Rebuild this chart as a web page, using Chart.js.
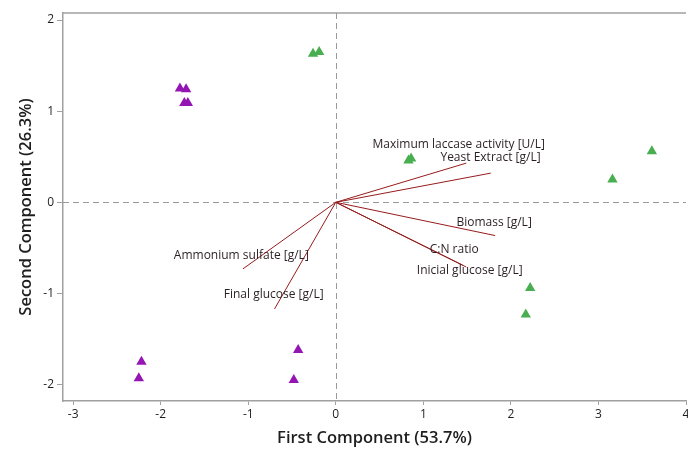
<!DOCTYPE html>
<html>
<head>
<meta charset="utf-8">
<script src="https://cdn.jsdelivr.net/npm/chart.js@4"></script>
<style>
  html, body { margin: 0; padding: 0; background: #fff; }
  #wrap { width: 688px; height: 449px; }
</style>
</head>
<body>
<div id="wrap"><canvas id="biplot"></canvas></div>
<script>
// scores (first / second component)
const greenScores = [
  {x: -0.26, y: 1.63}, {x: -0.19, y: 1.65},
  {x: 0.83, y: 0.46}, {x: 0.86, y: 0.48},
  {x: 3.16, y: 0.25}, {x: 3.61, y: 0.56},
  {x: 2.22, y: -0.94}, {x: 2.17, y: -1.23}
];
const purpleScores = [
  {x: -1.78, y: 1.25}, {x: -1.71, y: 1.24},
  {x: -1.73, y: 1.09}, {x: -1.69, y: 1.09},
  {x: -2.22, y: -1.75}, {x: -2.25, y: -1.93},
  {x: -0.43, y: -1.62}, {x: -0.48, y: -1.95}
];

// loading vectors
const variables = [
  'Maximum laccase activity [U/L]', 'Yeast Extract [g/L]', 'Biomass [g/L]',
  'C:N ratio', 'Inicial glucose [g/L]', 'Ammonium sulfate [g/L]', 'Final glucose [g/L]'
];
const loadX = [1.49, 1.77, 1.82, 1.45, 1.49, -1.06, -0.70];
const loadY = [0.43, 0.32, -0.365, -0.69, -0.71, -0.73, -1.17];
// where each variable name sits (data units, left edge / middle)
const labelX = [0.42, 1.195, 1.378, 1.073, 0.925, -1.85, -1.28];
const labelY = [0.63, 0.49, -0.22, -0.52, -0.75, -0.585, -1.015];

const xTicks = [-3, -2, -1, 0, 1, 2, 3, 4];
const yTicks = [-2, -1, 0, 1, 2];

const axisGray = '#a0a0a0';
const vecColor = '#961b1b';

const vectorSets = variables.map((name, i) => ({
  type: 'scatter',
  label: name,
  data: [{x: 0, y: 0}, {x: loadX[i], y: loadY[i]}],
  showLine: true,
  borderColor: vecColor,
  borderWidth: 1,
  pointRadius: 0,
  order: 2
}));

const extras = {
  id: 'extras',
  beforeDatasetsDraw(chart) {
    const {ctx, chartArea, scales: {x, y}} = chart;
    ctx.save();
    // top frame line
    ctx.strokeStyle = axisGray;
    ctx.lineWidth = 1.5;
    ctx.beginPath();
    ctx.moveTo(chartArea.left, chartArea.top);
    ctx.lineTo(chartArea.right, chartArea.top);
    ctx.stroke();
    // dashed reference lines
    ctx.strokeStyle = '#9a9a9a';
    ctx.lineWidth = 1;
    ctx.setLineDash([6, 4]);
    const x0 = Math.round(x.getPixelForValue(0)) + 0.5;
    const y0 = Math.round(y.getPixelForValue(0)) + 0.5;
    ctx.beginPath();
    ctx.moveTo(x0, chartArea.top);
    ctx.lineTo(x0, chartArea.bottom);
    ctx.moveTo(chartArea.left, y0);
    ctx.lineTo(chartArea.right, y0);
    ctx.stroke();
    ctx.restore();
  },
  afterDatasetsDraw(chart) {
    const {ctx, scales: {x, y}} = chart;
    ctx.save();
    ctx.font = '12px "Open Sans"';
    ctx.fillStyle = '#2a1f24';
    ctx.textAlign = 'left';
    ctx.textBaseline = 'middle';
    variables.forEach((name, i) => {
      ctx.fillText(name, x.getPixelForValue(labelX[i]), y.getPixelForValue(labelY[i]));
    });
    ctx.restore();
  }
};

new Chart(document.getElementById('biplot'), {
  type: 'scatter',
  data: {
    datasets: [
      ...vectorSets,
      {
        label: 'green',
        data: greenScores,
        pointStyle: 'triangle',
        pointRadius: 6,
        pointHoverRadius: 6,
        backgroundColor: '#48ae50',
        borderColor: '#48ae50',
        borderWidth: 0,
        order: 1
      },
      {
        label: 'purple',
        data: purpleScores,
        pointStyle: 'triangle',
        pointRadius: 6,
        pointHoverRadius: 6,
        backgroundColor: '#9416b2',
        borderColor: '#9416b2',
        borderWidth: 0,
        order: 1
      }
    ]
  },
  options: {
    responsive: true,
    maintainAspectRatio: false,
    animation: false,
    events: [],
    layout: { autoPadding: false, padding: { top: 13, right: 2, left: 0, bottom: 0 } },
    plugins: { legend: { display: false }, tooltip: { enabled: false } },
    scales: {
      x: {
        type: 'linear',
        min: -3.116,
        max: 4.0,
        afterBuildTicks: (s) => { s.ticks = xTicks.map(v => ({value: v})); },
        afterFit: (s) => { s.height = 48; s.paddingLeft = 0; s.paddingRight = 0; },
        ticks: { color: '#1e1e1e', font: { family: 'Open Sans', size: 12 }, padding: 2, maxRotation: 0 },
        grid: { drawOnChartArea: false, drawTicks: true, tickLength: 4, color: axisGray },
        border: { display: true, color: axisGray, width: 1.5 },
        title: {
          display: true,
          text: 'First Component (53.7%)',
          color: '#1e1e1e',
          font: { family: 'Open Sans', size: 16.5, weight: '600' },
          padding: { top: 0, bottom: 1 }
        }
      },
      y: {
        type: 'linear',
        min: -2.18,
        max: 2.077,
        afterBuildTicks: (s) => { s.ticks = yTicks.map(v => ({value: v})); },
        afterFit: (s) => { s.width = 63; s.paddingTop = 0; s.paddingBottom = 0; },
        ticks: { color: '#1e1e1e', font: { family: 'Open Sans', size: 12 }, padding: 3 },
        grid: { drawOnChartArea: false, drawTicks: true, tickLength: 6, color: axisGray },
        border: { display: true, color: axisGray, width: 1.5 },
        title: {
          display: true,
          text: 'Second Component (26.3%)',
          color: '#1e1e1e',
          font: { family: 'Open Sans', size: 16.5, weight: '600' },
          padding: { top: 16, bottom: 0 }
        }
      }
    }
  },
  plugins: [extras]
});
</script>
</body>
</html>
